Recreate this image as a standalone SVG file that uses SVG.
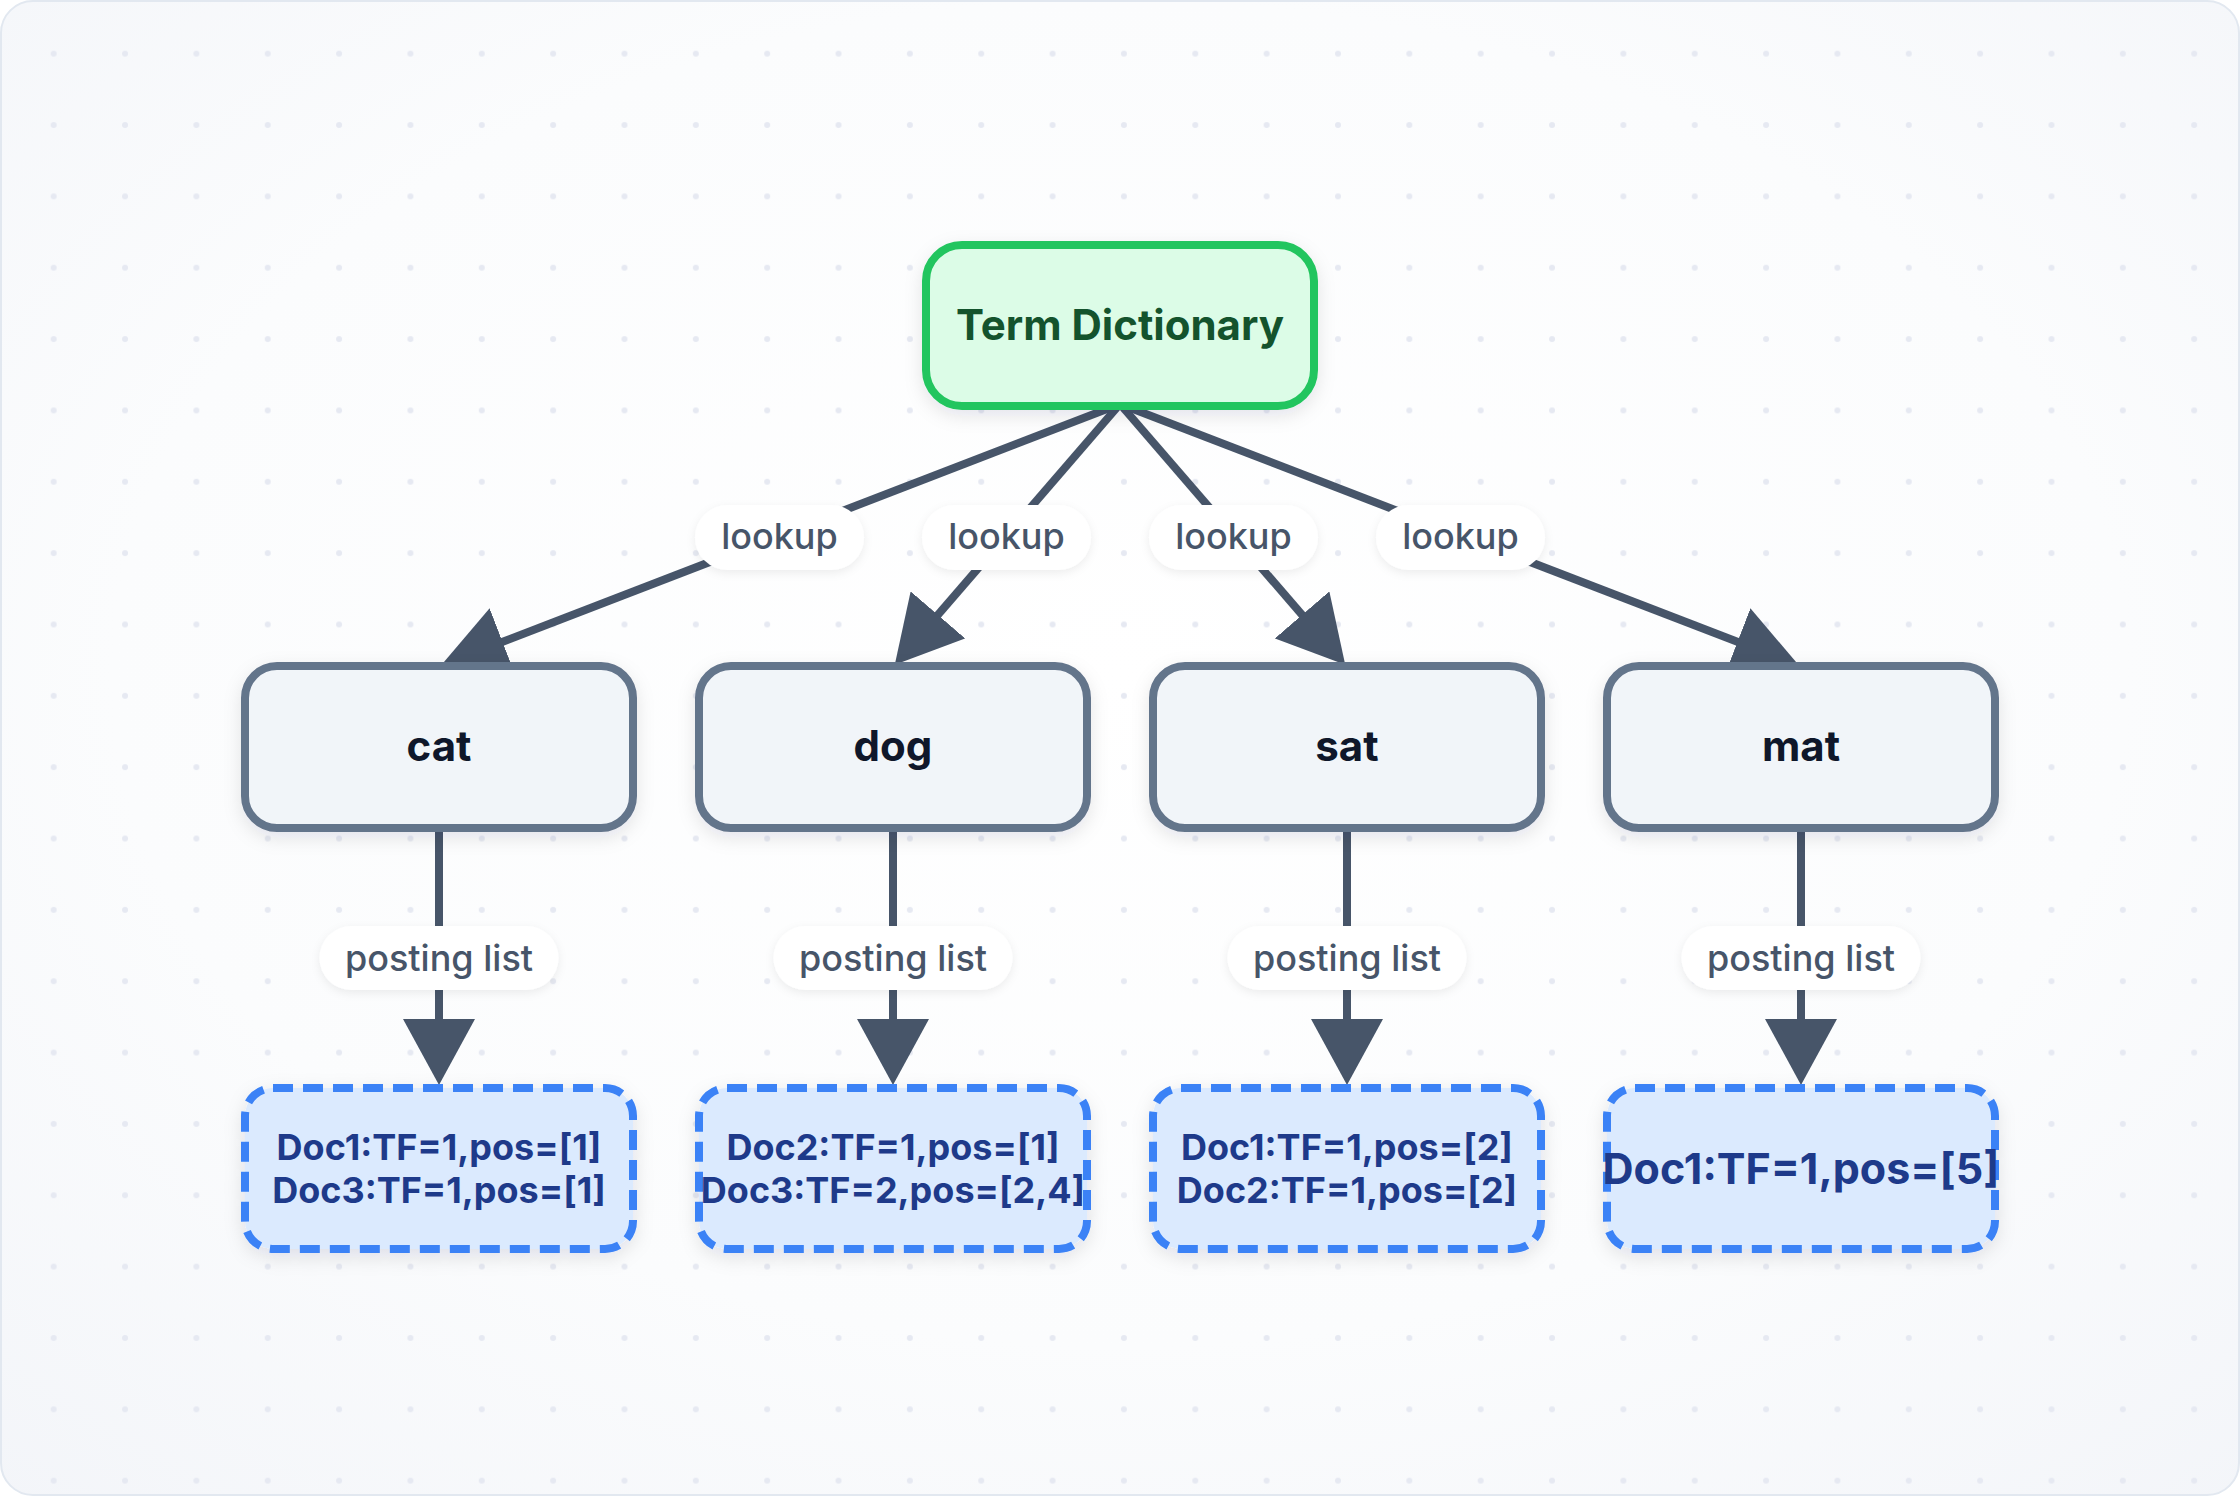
<svg xmlns="http://www.w3.org/2000/svg" width="2240" height="1496" viewBox="0 0 2240 1496">
<defs>
<radialGradient id="bgGrad" cx="0.5" cy="0.45" r="0.75">
<stop offset="0" stop-color="#ffffff"/>
<stop offset="0.6" stop-color="#fbfcfd"/>
<stop offset="1" stop-color="#f3f5f9"/>
</radialGradient>
<pattern id="dots" patternUnits="userSpaceOnUse" x="18" y="18" width="71.35" height="71.35">
<circle cx="35.7" cy="35.7" r="3" fill="#e6e9f2"/>
</pattern>
<filter id="shadow" x="-20%" y="-20%" width="140%" height="150%">
<feDropShadow dx="0" dy="6" stdDeviation="9" flood-color="#0f172a" flood-opacity="0.10"/>
</filter>
<filter id="pillShadow" x="-20%" y="-30%" width="140%" height="170%">
<feDropShadow dx="0" dy="3" stdDeviation="5" flood-color="#0f172a" flood-opacity="0.07"/>
</filter>
<marker id="arrow" markerUnits="userSpaceOnUse" markerWidth="68" markerHeight="72" refX="2" refY="36" orient="auto">
<path d="M0,0 L66,36 L0,72 Z" fill="#475569"/>
</marker>
<style>
.edge{stroke:#475569;stroke-width:8;fill:none;marker-end:url(#arrow)}
.pill{fill:#ffffff;filter:url(#pillShadow)}
.elabel{font-family:Inter,"Liberation Sans",sans-serif;font-size:36px;font-weight:500;fill:#475569;text-anchor:middle}
.term rect{fill:#dcfce7;stroke:#22c55e;stroke-width:8;filter:url(#shadow)}
.term text{font-family:Inter,"Liberation Sans",sans-serif;font-size:42px;font-weight:700;fill:#14532d;text-anchor:middle}
.word rect{fill:#f1f5f9;stroke:#64748b;stroke-width:8;filter:url(#shadow)}
.word text{font-family:Inter,"Liberation Sans",sans-serif;font-size:42px;font-weight:700;fill:#0f172a;text-anchor:middle}
.post rect{fill:#dbeafe;stroke:#3b82f6;stroke-width:8;stroke-dasharray:20 10;filter:url(#shadow)}
.post text{font-family:Inter,"Liberation Sans",sans-serif;font-size:36px;font-weight:700;fill:#1e3a8a;text-anchor:middle}
</style>
</defs>

<rect x="1" y="1" width="2238" height="1494" rx="32" fill="url(#bgGrad)" stroke="#e2e8f0" stroke-width="2"/>
<rect x="1" y="1" width="2238" height="1494" rx="32" fill="url(#dots)"/>

<g id="connectors">
<line class="edge" x1="1120" y1="404" x2="500.7" y2="642.6"/>
<line class="edge" x1="1120" y1="404" x2="936.6" y2="616.4"/>
<line class="edge" x1="1120" y1="404" x2="1303.4" y2="616.4"/>
<line class="edge" x1="1120" y1="404" x2="1739.3" y2="642.6"/>
<line class="edge" x1="439" y1="828" x2="439" y2="1021"/>
<line class="edge" x1="893" y1="828" x2="893" y2="1021"/>
<line class="edge" x1="1347" y1="828" x2="1347" y2="1021"/>
<line class="edge" x1="1801" y1="828" x2="1801" y2="1021"/>

<rect class="pill" x="695" y="505" width="169" height="65" rx="32.5"/>
<text class="elabel" x="779.5" y="549">lookup</text>
<rect class="pill" x="922" y="505" width="169" height="65" rx="32.5"/>
<text class="elabel" x="1006.5" y="549">lookup</text>
<rect class="pill" x="1149" y="505" width="169" height="65" rx="32.5"/>
<text class="elabel" x="1233.5" y="549">lookup</text>
<rect class="pill" x="1376" y="505" width="169" height="65" rx="32.5"/>
<text class="elabel" x="1460.5" y="549">lookup</text>

<rect class="pill" x="319.5" y="926" width="239" height="64" rx="32"/>
<text class="elabel" x="439" y="971">posting list</text>
<rect class="pill" x="773.5" y="926" width="239" height="64" rx="32"/>
<text class="elabel" x="893" y="971">posting list</text>
<rect class="pill" x="1227.5" y="926" width="239" height="64" rx="32"/>
<text class="elabel" x="1347" y="971">posting list</text>
<rect class="pill" x="1681.5" y="926" width="239" height="64" rx="32"/>
<text class="elabel" x="1801" y="971">posting list</text>
</g>

<g id="term-dictionary" class="term">
<rect x="926" y="245" width="388" height="161" rx="36"/>
<text x="1120" y="340">Term Dictionary</text>
</g>

<g id="node-cat" class="word">
<rect x="245" y="666" width="388" height="162" rx="32"/>
<text x="439" y="761">cat</text>
</g>
<g id="node-dog" class="word">
<rect x="699" y="666" width="388" height="162" rx="32"/>
<text x="893" y="761">dog</text>
</g>
<g id="node-sat" class="word">
<rect x="1153" y="666" width="388" height="162" rx="32"/>
<text x="1347" y="761">sat</text>
</g>
<g id="node-mat" class="word">
<rect x="1607" y="666" width="388" height="162" rx="32"/>
<text x="1801" y="761">mat</text>
</g>

<g id="post-cat" class="post">
<rect x="245" y="1088" width="388" height="161" rx="28"/>
<text x="439" y="1160">Doc1:TF=1,pos=[1]</text>
<text x="439" y="1203">Doc3:TF=1,pos=[1]</text>
</g>
<g id="post-dog" class="post">
<rect x="699" y="1088" width="388" height="161" rx="28"/>
<text x="893" y="1160">Doc2:TF=1,pos=[1]</text>
<text x="893" y="1203">Doc3:TF=2,pos=[2,4]</text>
</g>
<g id="post-sat" class="post">
<rect x="1153" y="1088" width="388" height="161" rx="28"/>
<text x="1347" y="1160">Doc1:TF=1,pos=[2]</text>
<text x="1347" y="1203">Doc2:TF=1,pos=[2]</text>
</g>
<g id="post-mat" class="post">
<rect x="1607" y="1088" width="388" height="161" rx="28"/>
<text x="1801" y="1184" style="font-size:43px">Doc1:TF=1,pos=[5]</text>
</g>
</svg>
